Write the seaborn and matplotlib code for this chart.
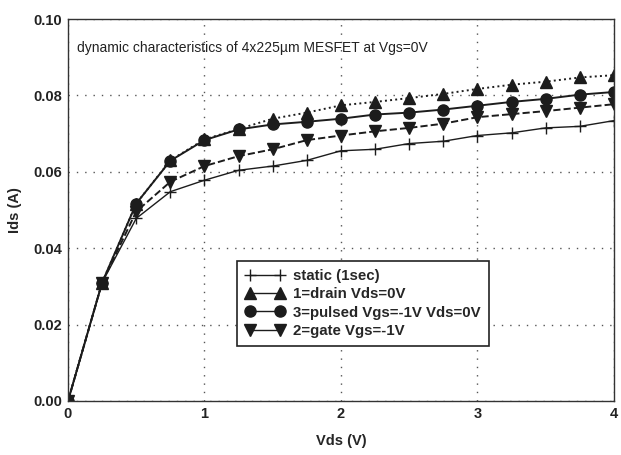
import matplotlib
matplotlib.use("Agg")
import matplotlib.pyplot as plt
import numpy as np
import pandas as pd
import seaborn as sns

# Vds sweep (V)
vds = [0.0, 0.25, 0.5, 0.75, 1.0, 1.25, 1.5, 1.75, 2.0,
       2.25, 2.5, 2.75, 3.0, 3.25, 3.5, 3.75, 4.0]

# Ids (A)
ids_static = [0.0, 0.031, 0.0478, 0.0548, 0.0578, 0.0604, 0.0615, 0.0630, 0.0655,
              0.0659, 0.0674, 0.0680, 0.0695, 0.0702, 0.0715, 0.0719, 0.0734]
ids_drain = [0.0, 0.031, 0.0517, 0.0630, 0.0685, 0.0712, 0.0739, 0.0755, 0.0774,
             0.0783, 0.0793, 0.0804, 0.0817, 0.0828, 0.0836, 0.0847, 0.0853]
ids_pulsed = [0.0, 0.031, 0.0517, 0.0629, 0.0683, 0.0711, 0.0724, 0.0731, 0.0739,
              0.0750, 0.0755, 0.0763, 0.0773, 0.0783, 0.0791, 0.0802, 0.0809]
ids_gate = [0.0, 0.031, 0.0496, 0.0574, 0.0615, 0.0641, 0.0659, 0.0683, 0.0695,
            0.0706, 0.0715, 0.0726, 0.0743, 0.0751, 0.0759, 0.0768, 0.0777]

labels = ["static (1sec)", "1=drain Vds=0V", "3=pulsed Vgs=-1V Vds=0V", "2=gate Vgs=-1V"]
y_ticks = [0.00, 0.02, 0.04, 0.06, 0.08, 0.10]
x_ticks = [0, 1, 2, 3, 4]

sns.set_theme(style="white")
plt.rcParams["font.family"] = ["Liberation Sans", "DejaVu Sans"]

fig = plt.figure(figsize=(6.21, 4.55), dpi=100)
ax = fig.add_axes([0.1095, 0.1187, 0.8792, 0.8395])

ink = "#1c1c1c"
series = [
    (ids_static, "+", "-", 9, 1.0),
    (ids_drain, "^", ":", 8, 1.4),
    (ids_pulsed, "o", "-", 8, 1.4),
    (ids_gate, "v", "--", 8, 1.4),
]
for (vals, mk, ls, ms, lw), lab in zip(series, labels):
    df = pd.DataFrame({"Vds": vds, "Ids": vals})
    sns.lineplot(data=df, x="Vds", y="Ids", ax=ax, color=ink, marker=mk,
                 linestyle=ls, markersize=ms, linewidth=lw, label=lab,
                 markeredgecolor=ink, markeredgewidth=1.0)

ax.set_xlim(0, 4)
ax.set_ylim(0, 0.10)
ax.set_xticks(x_ticks)
ax.set_yticks(y_ticks)
ax.set_yticklabels([f"{v:.2f}" for v in y_ticks])
ax.tick_params(labelsize=10.5, length=0, pad=4, colors="#222222")
for t in ax.get_xticklabels() + ax.get_yticklabels():
    t.set_fontweight("bold")

ax.grid(True, linestyle=(0, (1, 5)), color="#555555", linewidth=1.0)
for s in ax.spines.values():
    s.set_visible(True)
    s.set_color("#333333")
    s.set_linewidth(1.0)

ax.set_xlabel("Vds (V)", fontsize=10.5, fontweight="bold", labelpad=10)
ax.set_ylabel("Ids (A)", fontsize=10.5, fontweight="bold", labelpad=8)

ax.text(0.016, 0.925, "dynamic characteristics of 4x225\u00b5m MESFET at Vgs=0V",
        transform=ax.transAxes, fontsize=10, color="#222222", va="center")

leg = ax.legend(loc="lower left", bbox_to_anchor=(0.296, 0.124), numpoints=2,
                handlelength=2.6, borderpad=0.55, labelspacing=0.28,
                handletextpad=0.6, fancybox=False, framealpha=1,
                edgecolor="#222222", prop={"weight": "bold", "size": 10.8})
leg.get_frame().set_linewidth(1.2)
for line in leg.get_lines():
    line.set_linestyle("-")
    line.set_linewidth(1.0)

fig.savefig("out.png", dpi=100)
